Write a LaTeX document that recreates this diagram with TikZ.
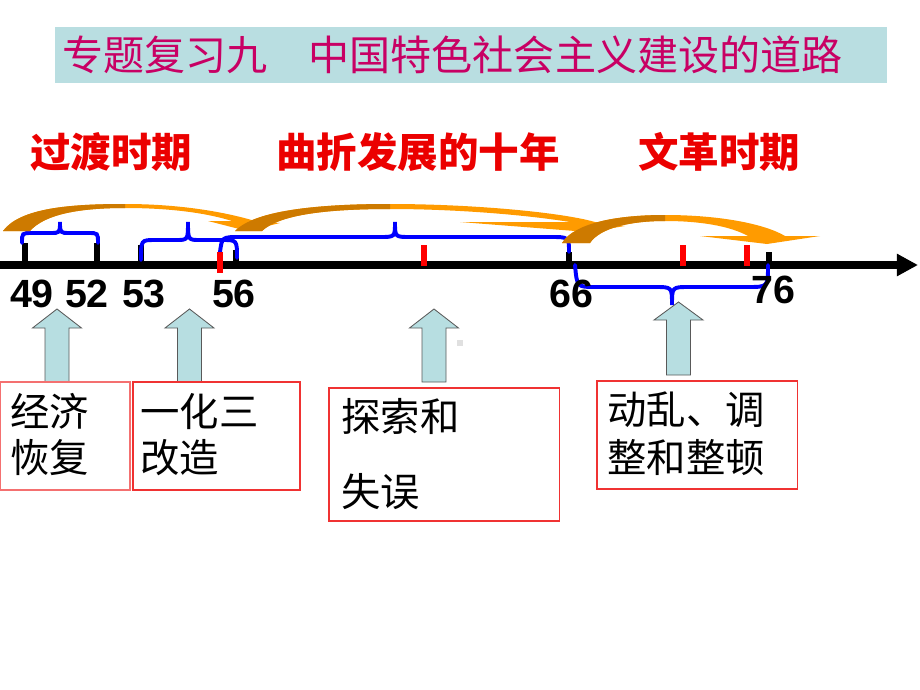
\documentclass[tikz,border=0pt]{standalone}
\usepackage{fontspec}
\setmainfont{Liberation Sans}
\newfontfamily\cjk{Noto Sans CJK SC}
\usetikzlibrary{arrows.meta}

\definecolor{titlebg}{RGB}{185,222,225}
\definecolor{titlered}{RGB}{200,0,100}
\definecolor{periodred}{RGB}{235,0,0}
\definecolor{darkorange}{RGB}{205,122,0}
\definecolor{lightorange}{RGB}{255,155,0}
\definecolor{arrowblue}{RGB}{183,222,225}
\definecolor{boxred}{RGB}{240,50,50}

% block arrow: x centre, tip, head base, bottom
\newcommand{\blockup}[4]{%
  \draw[blockarr] (#1-12,#4) -- (#1-12,#3) -- (#1-24.5,#3) -- (#1,#2)
    -- (#1+24.5,#3) -- (#1+12,#3) -- (#1+12,#4) -- cycle;}

\tikzset{
  titlebox/.style={fill=titlebg, inner sep=0, outer sep=0},
  titletext/.style={text=titlered, inner sep=0, font=\cjk\fontsize{29.2}{32}\selectfont},
  period/.style={text=periodred, inner sep=0, font=\cjk\bfseries\fontsize{28.8}{32}\selectfont},
  yearnum/.style={inner sep=0, font=\bfseries\fontsize{28}{30}\selectfont},
  infobox/.style={draw=boxred, line width=0.8pt, inner sep=0, outer sep=0},
  boxtext/.style={inner sep=0, align=left},
  bluebrace/.style={draw=blue, line width=2.8pt, line cap=round},
  blacktick/.style={draw=black, line width=4.2pt},
  redtick/.style={draw=red, line width=3.6pt},
  blockarr/.style={fill=arrowblue, draw=black!65, line width=0.6pt}
}

\begin{document}
\begin{tikzpicture}[x=0.025cm, y=-0.025cm]
  \useasboundingbox (0,0) rectangle (920,690);

  % title
  \node[titlebox, minimum width=20.8cm, minimum height=1.4cm, anchor=north west] (title) at (55,27) {};
  \node[titletext, anchor=west] (titletxt) at (62,55) {专题复习九　中国特色社会主义建设的道路};

  % periods
  \node[period] (guodu) at (111,152) {过渡时期};
  \node[period] (quzhe) at (418,152) {曲折发展的十年};
  \node[period] (wenge) at (719,152) {文革时期};

  % time line and ticks
  \draw[line width=5pt, -{Triangle[length=15pt,width=15pt]}] (0,265) -- (918,265);
  \draw[blacktick] (25,243) -- (25,266);
  \draw[blacktick] (97,243) -- (97,266);
  \draw[blacktick] (141,245) -- (141,266);
  \draw[blacktick] (236,250) -- (236,266);
  \draw[blacktick] (569,252) -- (569,266);
  \draw[blacktick] (769,252) -- (769,266);

  % braces
  \draw[bluebrace] (22,243) .. controls (22,233) .. (32,233) -- (50,233)
    .. controls (60,233) .. (60,222) .. controls (60,233) .. (70,233) -- (88,233)
    .. controls (98,233) .. (98,243);
  \draw[bluebrace] (141,260) .. controls (141,240) .. (155,240) -- (176,240)
    .. controls (188,240) .. (188,222) .. controls (188,240) .. (200,240) -- (222,240)
    .. controls (237,240) .. (237,258);
  \draw[bluebrace] (220,252) .. controls (222,237) .. (240,237) -- (380,237)
    .. controls (395,237) .. (395,222) .. controls (395,237) .. (410,237) -- (550,237)
    .. controls (569,237) .. (569,252);
  \draw[bluebrace] (575,265) .. controls (577,287) .. (595,287) -- (655,287)
    .. controls (672,287) .. (672,305) .. controls (672,287) .. (689,287) -- (748,287)
    .. controls (768,287) .. (768,265);

  \draw[redtick] (220,252) -- (220,273);
  \draw[redtick] (424,245) -- (424,266);
  \draw[redtick] (683,245) -- (683,266);
  \draw[redtick] (747,245) -- (747,266);

  % curved arrows
  \def\arrowA{(3,231) .. controls (20,208) and (70,204) .. (125,204)
    .. controls (180,204) and (225,212) .. (255,221) -- (280,223) -- (247,231)
    -- (208,221) -- (232,221) .. controls (200,211) and (160,208) .. (125,208)
    .. controls (80,208) and (45,214) .. (30,231) -- cycle}
  \def\arrowB{(235,231) .. controls (255,210) and (320,204) .. (390,204)
    .. controls (470,204) and (560,212) .. (595,222) -- (625,226) -- (588,232)
    -- (460,222) -- (570,222) .. controls (520,214) and (450,209) .. (390,209)
    .. controls (330,209) and (280,214) .. (262,231) -- cycle}
  \def\arrowC{(562,243) .. controls (575,222) and (620,215) .. (665,215)
    .. controls (720,215) and (765,224) .. (785,236) -- (820,236) -- (767,244)
    -- (700,236) -- (748,236) .. controls (730,226) and (700,221) .. (665,221)
    .. controls (630,221) and (600,228) .. (590,243) -- cycle}
  \fill[lightorange] \arrowA;
  \begin{scope}
    \clip (0,150) rectangle (125,240);
    \fill[darkorange] \arrowA;
  \end{scope}
  \fill[lightorange] \arrowB;
  \begin{scope}
    \clip (200,150) rectangle (390,240);
    \fill[darkorange] \arrowB;
  \end{scope}
  \fill[lightorange] \arrowC;
  \begin{scope}
    \clip (540,150) rectangle (665,250);
    \fill[darkorange] \arrowC;
  \end{scope}

  % years
  \node[yearnum] (n49) at (32,294) {49};
  \node[yearnum] (n52) at (87,294) {52};
  \node[yearnum] (n53) at (144,294) {53};
  \node[yearnum] (n56) at (234,294) {56};
  \node[yearnum] (n66) at (571,294) {66};
  \node[yearnum] (n76) at (773,290) {76};

  % up arrows
  \blockup{57}{309}{328}{382}
  \blockup{189.5}{309}{328}{382}
  \blockup{434}{309}{328}{382}
  \blockup{678.5}{302}{320}{375}
  \fill[black!12] (457,340) rectangle (463,346);

  % boxes
  \node[infobox, draw=boxred!70, minimum width=3.25cm, minimum height=2.7cm, anchor=north west] (box1) at (0,382) {};
  \node[infobox, minimum width=4.175cm, minimum height=2.7cm, anchor=north west] (box2) at (133,382) {};
  \node[infobox, minimum width=5.75cm, minimum height=3.325cm, anchor=north west] (box3) at (329,388) {};
  \node[infobox, minimum width=5cm, minimum height=2.7cm, anchor=north west] (box4) at (597,381) {};

  \node[boxtext, anchor=west, font=\cjk\fontsize{28}{32.7}\selectfont] (txt1) at (10,435) {经济\\恢复};
  \node[boxtext, anchor=west, font=\cjk\fontsize{28}{32.7}\selectfont] (txt2) at (140,435) {一化三\\改造};
  \node[boxtext, anchor=west, font=\cjk\fontsize{28}{53.4}\selectfont] (txt3) at (341,454.5) {探索和\\失误};
  \node[boxtext, anchor=west, font=\cjk\fontsize{28}{34.1}\selectfont] (txt4) at (607,434) {动乱、调\\整和整顿};
\end{tikzpicture}
\end{document}
